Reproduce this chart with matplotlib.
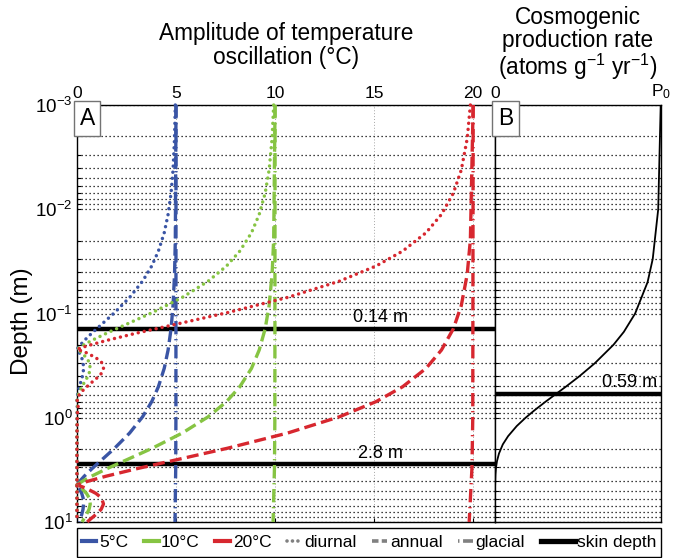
import numpy as np
import matplotlib.pyplot as plt
from matplotlib.lines import Line2D
from matplotlib.patches import Rectangle
from matplotlib.ticker import FixedLocator, LogLocator, NullFormatter

plt.rcParams['font.family'] = ['Liberation Sans', 'DejaVu Sans']
plt.rcParams['mathtext.fontset'] = 'custom'
plt.rcParams['mathtext.rm'] = 'Liberation Sans'
plt.rcParams['mathtext.it'] = 'Liberation Sans:italic'

# surface amplitudes (degC) and their colours
amplitudes = [5, 10, 20]
amp_labels = ['5°C', '10°C', '20°C']
amp_colors = ['#3a55a5', '#86c443', '#d7272f']

# relative amplitude of the daily cycle vs depth (m)
diurnal_depth = [0.001, 0.0021, 0.0042, 0.007, 0.0112, 0.0168, 0.0252, 0.035,
                 0.049, 0.07, 0.098, 0.126, 0.154, 0.182, 0.203, 0.22, 0.238,
                 0.266, 0.294, 0.336, 0.378, 0.42, 0.476, 0.56, 0.616, 0.66,
                 0.77, 0.91, 1.5, 3.0, 10.0]
diurnal_rel = [0.993, 0.985, 0.970, 0.950, 0.920, 0.881, 0.822, 0.755,
               0.662, 0.532, 0.380, 0.253, 0.151, 0.073, 0.028, 0.0, 0.024,
               0.048, 0.062, 0.067, 0.061, 0.049, 0.032, 0.012, 0.004, 0.0,
               0.003, 0.001, 0.0, 0.0, 0.0]

# relative amplitude of the yearly cycle vs depth (m)
annual_depth = [0.001, 0.0196, 0.042, 0.084, 0.14, 0.224, 0.336, 0.504, 0.7,
                0.98, 1.4, 1.96, 2.52, 3.08, 3.64, 4.06, 4.4, 4.76, 5.32,
                5.88, 6.72, 7.56, 8.4, 9.52, 10.0]
annual_rel = [1.0, 0.993, 0.985, 0.970, 0.950, 0.920, 0.881, 0.822, 0.755,
              0.662, 0.532, 0.380, 0.253, 0.151, 0.073, 0.028, 0.0, 0.024,
              0.048, 0.062, 0.067, 0.061, 0.049, 0.032, 0.026]

# glacial cycle barely damps over the top 10 m
glacial_depth = [0.001, 1.0, 3.0, 10.0]
glacial_rel = [1.0, 0.999, 0.997, 0.99]

# skin depths (m)
skin_diurnal = 0.14
skin_annual = 2.8
atten_length = 0.59

# cosmogenic production, fraction of surface rate P0
prod_depth = [0.001, 0.01, 0.03, 0.05, 0.1, 0.15, 0.2, 0.3, 0.4, 0.5, 0.59,
              0.7, 0.85, 1.0, 1.2, 1.5, 1.8, 2.2, 2.6, 3.0, 3.5, 4.5, 6.0, 10.0]
prod_rel = [0.998, 0.983, 0.950, 0.919, 0.844, 0.776, 0.713, 0.601, 0.508,
            0.429, 0.368, 0.305, 0.237, 0.184, 0.131, 0.079, 0.047, 0.024,
            0.012, 0.006, 0.0027, 0.0005, 0.0, 0.0]

dot_style = (0, (0.01, 1.75))
dash_style = (0, (3.6, 1.6))
dashdot_style = (0, (4.0, 1.4, 0.4, 1.4))

fig = plt.figure(figsize=(6.86, 5.58), dpi=100)
axA = fig.add_axes([0.1122, 0.0645, 0.6093, 0.7473])
axB = fig.add_axes([0.7216, 0.0645, 0.2420, 0.7473])

for ax in (axA, axB):
    ax.set_yscale('log')
    ax.set_ylim(10, 1e-3)
    ax.yaxis.set_major_locator(LogLocator(base=10, numticks=10))
    ax.yaxis.set_minor_locator(LogLocator(base=10, subs=np.arange(2, 10), numticks=10))
    ax.yaxis.set_minor_formatter(NullFormatter())
    ax.grid(axis='y', which='both', color='k', linestyle=(0, (1, 2.2)), linewidth=0.9)
    ax.xaxis.tick_top()
    ax.tick_params(axis='both', which='both', direction='in', length=3,
                   width=0.8, pad=3)
    ax.tick_params(axis='x', labelsize=12.5)
    ax.tick_params(axis='y', labelsize=13.5)
    for sp in ax.spines.values():
        sp.set_linewidth(1.0)

# panel A: temperature amplitude
axA.set_xlim(0, 21.1)
axA.xaxis.set_major_locator(FixedLocator([0, 5, 10, 15, 20]))
axA.grid(axis='x', which='major', color='0.65', linestyle=(0, (1, 2)), linewidth=0.7)
axA.tick_params(axis='x', bottom=True, top=False)
axA.set_ylabel('Depth (m)', fontsize=17.5)
axA.yaxis.set_label_coords(-0.106, 0.482)

axA.axhline(skin_diurnal, color='k', lw=3.2, zorder=2)
axA.axhline(skin_annual, color='k', lw=3.2, zorder=2)
axA.annotate(f'{skin_diurnal} m', (15.3, skin_diurnal), xytext=(0, 2),
             textcoords='offset points', ha='center', va='bottom', fontsize=13)
axA.annotate(f'{skin_annual} m', (15.3, skin_annual), xytext=(0, 2),
             textcoords='offset points', ha='center', va='bottom', fontsize=13)

for amp, col in zip(amplitudes, amp_colors):
    axA.plot([v * amp for v in glacial_rel], glacial_depth, color=col,
             lw=2.4, ls=dashdot_style, zorder=3, clip_on=False)
    axA.plot([v * amp for v in annual_rel], annual_depth, color=col,
             lw=2.4, ls=dash_style, zorder=4, clip_on=False)
    axA.plot([v * amp for v in diurnal_rel], diurnal_depth, color=col,
             lw=2.5, ls=dot_style, dash_capstyle='round', zorder=5, clip_on=False)

box_style = dict(boxstyle='square,pad=0.25', fc='white', ec='0.45', lw=1.0)
axA.text(0.006, 0.995, 'A', transform=axA.transAxes, ha='left', va='top',
         fontsize=16.5, zorder=10, bbox=box_style)

# panel B: cosmogenic production
axB.set_xlim(0, 1.0)
axB.xaxis.set_major_locator(FixedLocator([0, 1.0]))
axB.set_xticklabels(['0', r'$\mathregular{P_0}$'])
axB.tick_params(axis='y', labelleft=False)
axB.tick_params(axis='x', length=0)
axB.axhline(atten_length, color='k', lw=3.2, zorder=2)
axB.annotate(f'{atten_length} m', (0.975, atten_length), xytext=(0, 2),
             textcoords='offset points', ha='right', va='bottom', fontsize=13)
axB.plot(prod_rel, prod_depth, color='k', lw=1.3, zorder=4)
axB.text(0.017, 0.995, 'B', transform=axB.transAxes, ha='left', va='top',
         fontsize=16.5, zorder=10, bbox=box_style)

fig.text(0.417, 0.919, 'Amplitude of temperature\noscillation (°C)',
         ha='center', va='center', fontsize=16.3, linespacing=1.05)
fig.text(0.842, 0.921, 'Cosmogenic\nproduction rate\n(atoms g$^{-1}$ yr$^{-1}$)',
         ha='center', va='center', fontsize=16.3, linespacing=1.0)

# legend: frame drawn separately so the skin-depth key can have a longer handle
fig.patches.append(Rectangle((0.1122, 0.0018), 0.8513, 0.052, transform=fig.transFigure,
                             fill=False, ec='k', lw=1.0))
handles = [Line2D([], [], color=c, lw=3) for c in amp_colors]
handles += [Line2D([], [], color='0.5', lw=2.6, ls=(0, (0.01, 1.5)), dash_capstyle='round'),
            Line2D([], [], color='0.5', lw=2.6, ls=(0, (1.8, 0.9))),
            Line2D([], [], color='0.5', lw=2.6, ls=(0, (0.4, 1.0, 4.0, 0.0)))]
labels = amp_labels + ['diurnal', 'annual', 'glacial']
fig.legend(handles, labels, loc='center left', ncol=6,
           bbox_to_anchor=(0.119, 0.0278), borderaxespad=0, borderpad=0,
           fontsize=12.5, handlelength=0.85, handletextpad=0.15, columnspacing=0.9,
           frameon=False)
fig.legend([Line2D([], [], color='k', lw=3.8)], ['skin depth'], loc='center right',
           bbox_to_anchor=(0.957, 0.0278), borderaxespad=0, borderpad=0,
           fontsize=12.5, handlelength=2.0, handletextpad=0.1, frameon=False)

plt.savefig('out.png', dpi=100)
